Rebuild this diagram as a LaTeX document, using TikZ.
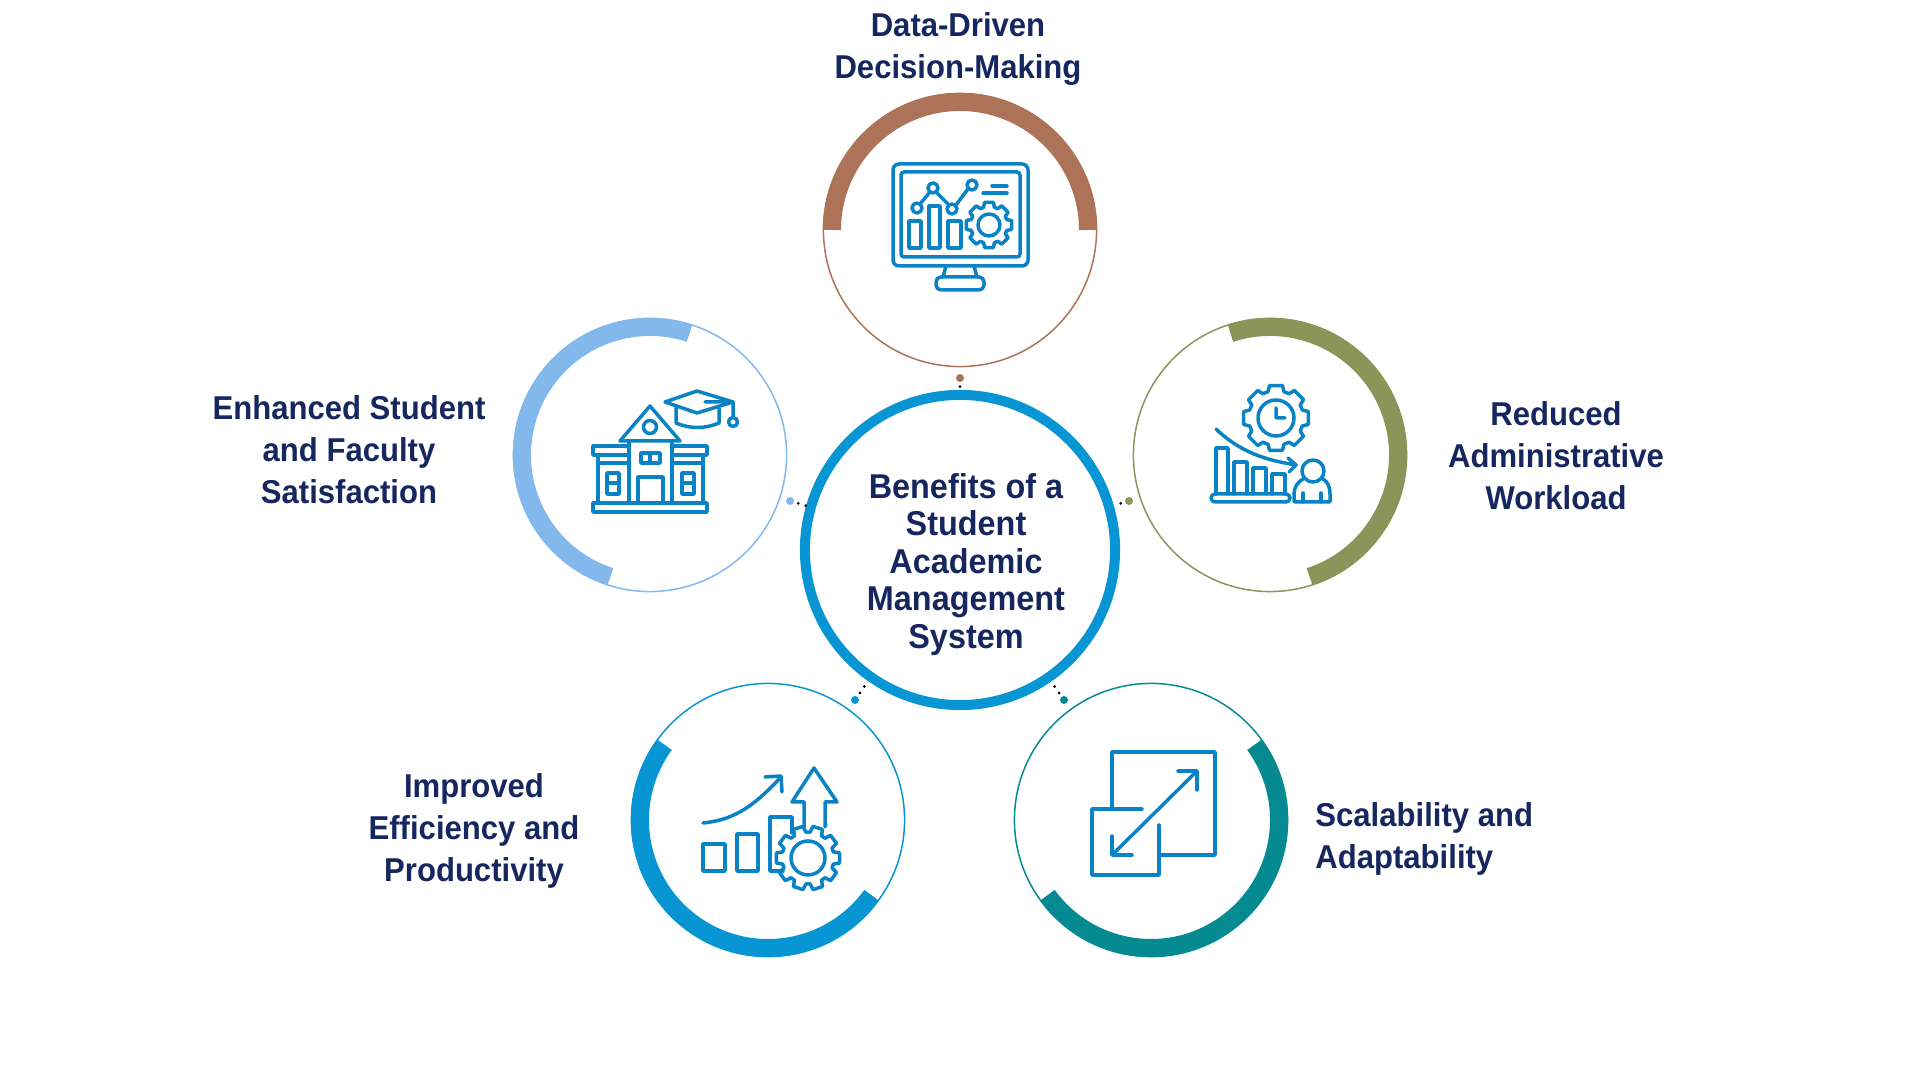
\documentclass[tikz,border=0pt]{standalone}
\usepackage{fontspec}
\setmainfont[FakeStretch=.94]{Liberation Sans}
\usetikzlibrary{calc}
\definecolor{navy}{HTML}{16275F}
\definecolor{icon}{HTML}{0A82C6}
\definecolor{brown}{HTML}{AD7358}
\definecolor{sky}{HTML}{82B8EB}
\definecolor{olive}{HTML}{8C9559}
\definecolor{blue}{HTML}{0796D3}
\definecolor{teal}{HTML}{058A92}
\tikzset{
 ring/.style={circle,draw=#1,line width=.015cm,minimum size=2.73cm,inner sep=0,outer sep=0},
 band/.style={draw=#1,line width=.18cm},
 hubring/.style={circle,draw=blue,line width=.1cm,minimum size=3.1cm,inner sep=0,outer sep=.05cm},
 hublabel/.style={align=center,text=navy,font=\bfseries\fontsize{9.8}{10.64}\selectfont},
 dotnode/.style={circle,fill=#1,minimum size=.08cm,inner sep=0,outer sep=0},
 dotline/.style={line width=.03cm,line cap=round,dash pattern=on 0pt off .078cm,shorten <=.046cm},
 label/.style={align=center,text=navy,font=\bfseries\fontsize{9.4}{11.95}\selectfont},
 ico/.style={draw=icon,line width=.035cm,line join=round,line cap=round}
}
% x y outer valley teeth
\newcommand\gearicon[5]{%
 \draw[ico] ($(#1,#2)+(-90/#5:#3)$) \foreach \t [evaluate=\t as \a using \t*360/#5] in {1,...,#5}{
  -- ($(#1,#2)+(\a-270/#5:#3)$) -- ($(#1,#2)+(\a-225/#5:#4)$) -- ($(#1,#2)+(\a-135/#5:#4)$) -- ($(#1,#2)+(\a-90/#5:#3)$)
 } -- cycle;}
\begin{document}
\begin{tikzpicture}[x=.01cm,y=-.01cm]
 \useasboundingbox (0,0) rectangle (1920,1080);
 \node[ring=brown] (dataring) at (960,230) {};
 \node[ring=sky] (studentring) at (650,455) {};
 \node[ring=olive] (workring) at (1270,455) {};
 \node[ring=blue] (effring) at (768,820) {};
 \node[ring=teal] (scalering) at (1151,820) {};
 \draw[band=brown] (dataring) ++(180:128) arc[start angle=180,end angle=360,radius=128];
 \draw[band=sky] (studentring) ++(-72:128) arc[start angle=-72,end angle=-252,radius=128];
 \draw[band=olive] (workring) ++(-108:128) arc[start angle=-108,end angle=72,radius=128];
 \draw[band=blue] (effring) ++(-144:128) arc[start angle=-144,end angle=-324,radius=128];
 \draw[band=teal] (scalering) ++(-36:128) arc[start angle=-36,end angle=144,radius=128];
 \node[hubring] (hub) at (960,550) {};
 \node[hublabel] (hubtext) at (966,564.5) {Benefits of a\\Student\\Academic\\Management\\System};
 \node[dotnode=brown] (datadot) at (960,378) {};
 \node[dotnode=sky] (studentdot) at (790,501) {};
 \node[dotnode=olive] (workdot) at (1129,501) {};
 \node[dotnode=blue] (effdot) at (855,700) {};
 \node[dotnode=teal] (scaledot) at (1064,700) {};
 \foreach \d in {datadot,studentdot,workdot,effdot,scaledot}
  \draw[dotline] (\d) -- (hub);
 \node[label] (datatext) at (958,49) {Data-Driven\\Decision-Making};
 \node[label] (studenttext) at (349,450) {Enhanced Student\\and Faculty\\Satisfaction};
 \node[label] (worktext) at (1556,456) {Reduced\\Administrative\\Workload};
 \node[label] (efftext) at (474,831) {Improved\\Efficiency and\\Productivity};
 \node[label,align=left,anchor=west] (scaletext) at (1303,839) {Scalability and\\Adaptability};

 \draw[ico,rounded corners=.06cm] (893,164) rectangle (1028,266);
 \draw[ico,rounded corners=.03cm] (901,172) rectangle (1020,257);
 \draw[ico] (946,266)--(943,277) (974,266)--(977,277);
 \draw[ico,rounded corners=.05cm] (936,290)--(936,277)--(984,277)--(984,290)--cycle;
 \draw[ico] (909,248) rectangle (921,221) (929,248) rectangle (940,206) (948,248) rectangle (961,221);
 \draw[ico] (917,208) circle[radius=5] (933,188) circle[radius=5] (952,209) circle[radius=5] (972,185) circle[radius=5];
 \draw[ico] (920,204)--(930,192) (936,192)--(949,205) (956,205)--(968,189);
 \draw[ico] (992,186)--(1007,186) (983,193)--(1007,193);
 \gearicon{989}{225}{23}{18.5}{8}
 \draw[ico] (989,225) circle[radius=11];

 \draw[ico] (665,402)--(697,391)--(733,402)--(697,413)--cycle;
 \draw[ico] (676,408)--(676,423) .. controls (690,429) and (705,429) .. (719,423)--(719,408);
 \draw[ico] (705,402)--(733,402)--(733,417) (733,422) circle[radius=4.5];
 \draw[ico] (650,406)--(620,441)--(680,441)--cycle (650,427) circle[radius=6.5];
 \draw[ico] (629,441)--(629,503) (672,441)--(672,503);
 \draw[ico] (641,453) rectangle (660,463) (650,453)--(650,463);
 \draw[ico] (638,503)--(638,477)--(663,477)--(663,503);
 \draw[ico] (629,446)--(593,446)--(593,455)--(629,455) (672,446)--(707,446)--(707,455)--(672,455);
 \draw[ico] (598,455)--(598,503) (703,455)--(703,503) (598,463)--(629,463) (672,463)--(703,463);
 \draw[ico] (607,473) rectangle (619,494) (607,483)--(619,483) (682,473) rectangle (694,494) (682,483)--(694,483);
 \draw[ico] (593,503) rectangle (707,512);

 \gearicon{1276}{418}{33}{27.5}{8}
 \draw[ico] (1276,418) circle[radius=18] (1276,408)--(1276,418)--(1285,418);
 \draw[ico] (1216,429) .. controls (1240,452) and (1265,460) .. (1296,465);
 \draw[ico] (1288,458)--(1296,465)--(1289,472);
 \draw[ico] (1216,494)--(1216,448)--(1228,448)--(1228,494) (1234,494)--(1234,462)--(1247,462)--(1247,494)
  (1253,494)--(1253,468)--(1266,468)--(1266,494) (1272,494)--(1272,474)--(1285,474)--(1285,494);
 \draw[ico,rounded corners=.04cm] (1211,494) rectangle (1290,502);
 \draw[ico] (1313,471) circle[radius=11];
 \draw[ico] (1303,479) .. controls (1298,482) and (1294,487) .. (1294,494)--(1294,502)--(1330,502)--(1330,494)
  .. controls (1330,487) and (1328,482) .. (1323,479);
 \draw[ico] (1303,493)--(1303,502) (1321,493)--(1321,502);

 \draw[ico] (703,823) .. controls (735,820) and (755,805) .. (781,777);
 \draw[ico] (765,777)--(781,776)--(782,792);
 \draw[ico] (703,871) rectangle (725,844) (737,871) rectangle (758,834);
 \draw[ico] (783,871)--(770,871)--(770,817)--(792,817)--(792,833);
 \draw[ico] (804,827)--(804,802)--(792,802)--(814,768)--(837,802)--(825,802)--(825,827);
 \gearicon{808}{858}{32}{26}{10}
 \draw[ico] (808,858) circle[radius=17];

 \draw[ico] (1112,807)--(1112,752)--(1215,752)--(1215,855)--(1159,855);
 \draw[ico] (1142,809)--(1092,809)--(1092,875)--(1159,875)--(1159,825);
 \draw[ico] (1112,855)--(1197,771);
 \draw[ico] (1178,771)--(1197,771)--(1197,790) (1112,836)--(1112,855)--(1132,855);
\end{tikzpicture}
\end{document}
